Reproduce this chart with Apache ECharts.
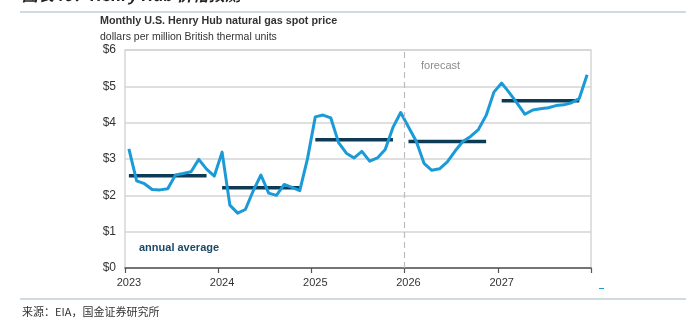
<!DOCTYPE html>
<html>
<head>
<meta charset="utf-8">
<script src="https://cdn.jsdelivr.net/npm/echarts@6/dist/echarts.min.js"></script>
<style>
  html, body { margin: 0; padding: 0; background: #ffffff; }
  #chart { width: 686px; height: 325px; }
</style>
</head>
<body>
<div id="chart"></div>
<script>
// Henry Hub monthly spot price, dollars per MMBtu
const years = ['2023', '2024', '2025', '2026', '2027'];
const price2023 = [3.28, 2.40, 2.32, 2.16, 2.15, 2.18, 2.56, 2.60, 2.65, 2.99, 2.72, 2.53];
const price2024 = [3.19, 1.73, 1.51, 1.61, 2.12, 2.56, 2.06, 2.00, 2.30, 2.22, 2.13, 3.01];
const price2025 = [4.16, 4.21, 4.13, 3.45, 3.16, 3.03, 3.21, 2.94, 3.03, 3.26, 3.87, 4.28];
const price2026 = [3.88, 3.49, 2.88, 2.69, 2.73, 2.92, 3.22, 3.48, 3.62, 3.81, 4.20, 4.84];
const price2027 = [5.09, 4.82, 4.53, 4.23, 4.35, 4.38, 4.41, 4.47, 4.49, 4.55, 4.67, 5.32];
const annualAverage = [2.54, 2.21, 3.53, 3.48, 4.60];
const yTickValues = [0, 1, 2, 3, 4, 5, 6];
const forecastStartMonth = 36; // January 2026

const monthlyByYear = [price2023, price2024, price2025, price2026, price2027];

// category per month, e.g. "2023-01"
const months = [];
years.forEach(y => {
  for (let m = 1; m <= 12; m++) months.push(y + '-' + String(m).padStart(2, '0'));
});
const monthlyPrice = [].concat(...monthlyByYear);

// annual average bar: Jan..Nov of each year, break in December
const averageLine = [];
annualAverage.forEach(v => {
  for (let m = 0; m < 12; m++) averageLine.push(m < 11 ? v : null);
});

const FONT = '"Liberation Sans", Arial, Helvetica, sans-serif';
const chart = echarts.init(document.getElementById('chart'), null, { renderer: 'canvas' });

chart.setOption({
  animation: false,
  backgroundColor: '#ffffff',
  grid: {
    left: 125, right: 95, top: 50, bottom: 57,
    show: true, borderColor: '#d6d6d6', borderWidth: 1.5, backgroundColor: 'transparent'
  },
  xAxis: [{
    type: 'category',
    data: months,
    boundaryGap: true,
    axisLine: { show: true, lineStyle: { color: '#555555', width: 1.5 } },
    axisTick: {
      show: true, length: 5, lineStyle: { color: '#555555', width: 1.2 },
      interval: (i) => i % 12 === 0
    },
    axisLabel: {
      interval: (i) => i % 12 === 0,
      formatter: (v) => v.slice(0, 4),
      color: '#333333', fontSize: 11, fontFamily: FONT, margin: 9
    },
    splitLine: { show: false }
  }, {
    type: 'value',
    min: 0, max: 60,
    show: false,
    position: 'bottom'
  }],
  yAxis: {
    type: 'value',
    min: yTickValues[0],
    max: yTickValues[yTickValues.length - 1],
    interval: 1,
    axisLine: { show: false },
    axisTick: { show: false },
    axisLabel: {
      formatter: (v) => '$' + v,
      color: '#333333', fontSize: 12, fontFamily: FONT, margin: 9
    },
    splitLine: { show: true, lineStyle: { color: '#d4d4d4', width: 1.5 } }
  },
  series: [{
    name: 'annual average',
    type: 'line',
    data: averageLine,
    xAxisIndex: 0,
    symbol: 'none',
    connectNulls: false,
    lineStyle: { color: '#0e3b54', width: 3.5, cap: 'butt' },
    z: 3
  }, {
    name: 'monthly',
    type: 'line',
    data: monthlyPrice,
    xAxisIndex: 0,
    symbol: 'none',
    lineStyle: { color: '#1a9bd7', width: 3, join: 'round' },
    z: 4
  }, {
    name: 'forecast start',
    type: 'line',
    xAxisIndex: 1,
    data: [[forecastStartMonth, null]],
    symbol: 'none',
    lineStyle: { opacity: 0 },
    markLine: {
      silent: true,
      symbol: 'none',
      label: { show: false },
      lineStyle: { color: '#bdbdbd', width: 1.2, type: [6, 4] },
      data: [{ xAxis: forecastStartMonth }]
    },
    z: 1
  }],
  graphic: [
    {
      type: 'text', left: 22, top: -13,
      style: {
        text: '图表46：Henry Hub 价格预测',
        font: 'italic bold 16px "Noto Sans CJK SC", ' + FONT,
        fill: '#222222'
      }
    },
    {
      type: 'line', shape: { x1: 20, y1: 12, x2: 686, y2: 12 },
      style: { stroke: '#9fb6c4', lineWidth: 1.2 }
    },
    {
      type: 'text', left: 100, top: 16,
      style: {
        text: 'Monthly U.S. Henry Hub natural gas spot price',
        font: 'bold 10.75px ' + FONT, fill: '#333333'
      }
    },
    {
      type: 'text', left: 100, top: 32,
      style: {
        text: 'dollars per million British thermal units',
        font: '10.5px ' + FONT, fill: '#333333'
      }
    },
    {
      type: 'text', left: 421, top: 60,
      style: { text: 'forecast', font: '11px ' + FONT, fill: '#8c8c8c' }
    },
    {
      type: 'text', left: 139, top: 242,
      style: { text: 'annual average', font: 'bold 11px ' + FONT, fill: '#1c4a66' }
    },
    {
      type: 'line', shape: { x1: 599, y1: 288.5, x2: 604, y2: 288.5 },
      style: { stroke: '#1a9bd7', lineWidth: 1 }
    },
    {
      type: 'line', shape: { x1: 20, y1: 299, x2: 686, y2: 299 },
      style: { stroke: '#9fb6c4', lineWidth: 1.2 }
    },
    {
      type: 'text', left: 22, top: 306,
      style: {
        text: '来源：EIA，国金证券研究所',
        font: '11px "Noto Sans CJK SC", sans-serif', fill: '#333333'
      }
    }
  ]
});
</script>
</body>
</html>
